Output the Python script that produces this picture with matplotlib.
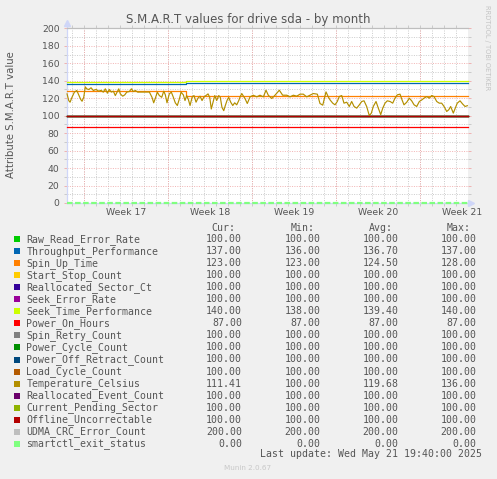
import matplotlib
matplotlib.use('Agg')
import matplotlib.pyplot as plt
from matplotlib.patches import Rectangle
from matplotlib.ticker import MultipleLocator, FixedLocator

plt.rcParams['lines.scale_dashes'] = False

W, H, DPI = 497, 479, 100

title = "S.M.A.R.T values for drive sda - by month"
ylabel = "Attribute S.M.A.R.T value"
week_labels = ["Week 17", "Week 18", "Week 19", "Week 20", "Week 21"]
week_label_pos = [3.5, 10.5, 17.5, 24.5, 31.5]   # days from start of week 17
week_starts = [0, 7, 14, 21, 28]
x_range = (-1.47, 31.95)
step_day = 8.45
last_update = "Last update: Wed May 21 19:40:00 2025"
version = "Munin 2.0.67"

names = ["Raw_Read_Error_Rate", "Throughput_Performance", "Spin_Up_Time",
         "Start_Stop_Count", "Reallocated_Sector_Ct", "Seek_Error_Rate",
         "Seek_Time_Performance", "Power_On_Hours", "Spin_Retry_Count",
         "Power_Cycle_Count", "Power_Off_Retract_Count", "Load_Cycle_Count",
         "Temperature_Celsius", "Reallocated_Event_Count",
         "Current_Pending_Sector", "Offline_Uncorrectable",
         "UDMA_CRC_Error_Count", "smartctl_exit_status"]
colors = ["#00CC00", "#0066B3", "#FF8000", "#FFCC00", "#330099", "#990099",
          "#CCFF00", "#FF0000", "#808080", "#008F00", "#00487D", "#B35A00",
          "#B38F00", "#6B006B", "#8FB300", "#B30000", "#BEBEBE", "#80FF80"]
cur = [100, 137, 123, 100, 100, 100, 140, 87, 100, 100, 100, 100, 111.41,
       100, 100, 100, 200, 0]
mins = [100, 136, 123, 100, 100, 100, 138, 87, 100, 100, 100, 100, 100,
        100, 100, 100, 200, 0]
avgs = [100, 136.70, 124.50, 100, 100, 100, 139.40, 87, 100, 100, 100, 100,
        119.68, 100, 100, 100, 200, 0]
maxs = [100, 137, 128, 100, 100, 100, 140, 87, 100, 100, 100, 100, 136,
        100, 100, 100, 200, 0]
before_step = [100, 136, 128, 100, 100, 100, 138, 87, 100, 100, 100, 100, None,
               100, 100, 100, 200, 0]
after_step = [100, 137, 123, 100, 100, 100, 140, 87, 100, 100, 100, 100, None,
              100, 100, 100, 200, 0]

temp_day = [-1.44, -1.30, -1.19, -1.03, -0.83, -0.63, -0.47, -0.30, -0.19, -0.05,
            0.08, 0.20, 0.37, 0.56, 0.75, 0.98, 1.20, 1.39, 1.58, 1.75, 1.92,
            2.08, 2.25, 2.42, 2.58, 2.73, 2.87, 3.00, 3.20, 3.37, 3.53, 3.75,
            3.92, 4.08, 4.25, 4.45, 4.64, 4.89, 5.14, 5.42, 5.64, 5.78, 5.92,
            6.08, 6.25, 6.45, 6.62, 6.75, 6.89, 7.08, 7.25, 7.42, 7.58, 7.75,
            7.92, 8.06, 8.25, 8.39, 8.53, 8.67, 8.81, 8.98, 9.14, 9.31, 9.47,
            9.64, 9.81, 9.95, 10.14, 10.31, 10.45, 10.58, 10.73, 10.87, 11.03,
            11.20, 11.33, 11.47, 11.62, 11.75, 11.89, 12.03, 12.20, 12.37,
            12.53, 12.70, 12.87, 12.98, 13.12, 13.39, 13.58, 13.81, 14.08,
            14.37, 14.64, 14.92, 15.14, 15.33, 15.62, 15.89, 16.25, 16.53,
            16.87, 17.14, 17.42, 17.70, 17.98, 18.25, 18.53, 18.81, 19.08,
            19.42, 19.64, 19.87, 20.14, 20.33, 20.48, 20.70, 20.89, 21.08,
            21.25, 21.45, 21.64, 21.87, 22.08, 22.28, 22.48, 22.70, 22.92,
            23.12, 23.31, 23.53, 23.75, 23.92, 24.08, 24.31, 24.50, 24.70,
            24.87, 25.06, 25.25, 25.48, 25.70, 25.89, 26.08, 26.31, 26.48,
            26.64, 26.87, 27.08, 27.28, 27.48, 27.70, 27.92, 28.12, 28.31,
            28.53, 28.75, 28.95, 29.14, 29.37, 29.58, 29.78, 29.98, 30.20,
            30.37, 30.53, 30.75, 30.92, 31.08, 31.31, 31.53, 31.73, 31.92]
temp_val = [124.9, 117.3, 115.4, 121.0, 126.9, 128.8, 123.8, 118.5, 116.5, 121.0,
            133.0, 130.7, 129.9, 131.9, 128.8, 130.0, 128.0, 129.0, 126.9, 130.7,
            125.7, 130.0, 127.0, 128.0, 123.0, 126.9, 130.7, 124.9, 122.3, 123.8,
            126.9, 127.6, 130.7, 127.6, 128.8, 126.9, 127.0, 127.0, 127.0, 127.0,
            121.0, 114.7, 120.0, 126.9, 123.0, 121.0, 128.0, 123.8, 114.7, 124.9,
            126.9, 121.0, 114.7, 111.6, 119.2, 126.9, 123.8, 117.3, 123.0, 118.5,
            111.6, 121.0, 123.0, 115.4, 120.0, 122.3, 117.3, 121.0, 123.0, 124.9,
            121.0, 107.6, 115.4, 123.0, 117.3, 123.0, 121.0, 109.5, 105.7, 111.6,
            117.3, 121.0, 115.4, 111.6, 114.7, 112.4, 117.3, 121.5, 125.3, 119.6,
            113.9, 121.5, 123.4, 121.5, 123.4, 121.5, 129.1, 123.4, 119.6, 123.4,
            129.1, 123.4, 123.4, 121.5, 123.4, 122.3, 124.6, 124.6, 121.5, 123.4,
            125.3, 124.6, 113.9, 112.0, 127.2, 121.5, 118.0, 114.3, 112.4, 116.2,
            121.9, 123.0, 114.3, 115.4, 110.5, 116.2, 110.5, 108.6, 112.4, 116.2,
            117.0, 110.5, 100.0, 102.9, 110.5, 116.2, 108.6, 101.2, 108.6, 114.3,
            117.0, 116.2, 114.3, 120.0, 123.8, 124.6, 118.0, 112.4, 115.4, 120.0,
            117.0, 112.4, 110.5, 116.2, 118.0, 120.0, 121.9, 120.0, 123.0, 121.9,
            116.2, 114.3, 114.3, 110.5, 104.8, 106.7, 110.5, 102.9, 108.6, 114.3,
            117.0, 113.3, 110.5, 111.4]

BG = "#F0F0F0"
FONT = "#555555"
AXIS = "#CFD6F8"
GRID = "#C4C4C4"
MGRID = "#EFA8A8"
DOT = (0, (0.72, 1.0))

def fx(px):
    return px / W

def fy(py):
    return 1 - py / H

fig = plt.figure(figsize=(W / DPI, H / DPI), dpi=DPI, facecolor=BG)
left, right, top, bottom = 66.7, 467.7, 28.3, 203.0
ax = fig.add_axes([fx(left), fy(bottom), (right - left) / W, (bottom - top) / H])
ax.set_facecolor("white")
ax.set_xlim(*x_range)
ax.set_ylim(0, 200)

# grid
ax.yaxis.set_major_locator(MultipleLocator(20))
ax.yaxis.set_minor_locator(MultipleLocator(10))
ax.xaxis.set_major_locator(FixedLocator(week_label_pos))
ax.xaxis.set_minor_locator(MultipleLocator(1))
ax.set_xticklabels(week_labels)
ax.grid(which="minor", axis="both", color=GRID, linewidth=0.6, linestyle=DOT)
ax.grid(which="major", axis="y", color=MGRID, linewidth=0.6, linestyle=DOT)
for d in week_starts:
    ax.axvline(d, color=MGRID, linewidth=0.6, linestyle=DOT, zorder=1.5)
ax.set_axisbelow(True)

ax.yaxis.set_ticks_position("both")
ax.xaxis.set_ticks_position("both")
ax.tick_params(axis="y", which="major", length=2, width=0.6, color=MGRID,
               labelsize=6.7, labelcolor=FONT, pad=3.2, direction="out")
ax.tick_params(axis="y", which="minor", length=2, width=0.6, color=GRID, direction="out")
ax.tick_params(axis="x", which="major", length=0, labelsize=6.7, labelcolor=FONT, pad=3.6)
ax.tick_params(axis="x", which="minor", length=2, width=0.6, color=GRID, direction="out")

for s in ["top", "right"]:
    ax.spines[s].set_visible(False)
for s in ["left", "bottom"]:
    ax.spines[s].set_color(AXIS)
    ax.spines[s].set_linewidth(0.9)
    ax.spines[s].set_zorder(1.8)
# arrows
ax.plot([0, 0], [1.0, 1.025], transform=ax.transAxes, color=AXIS, lw=0.9, clip_on=False)
ax.plot([0], [1.03], transform=ax.transAxes, marker="^", ms=4.5, color=AXIS,
        mec=AXIS, clip_on=False)
ax.plot([1.0, 1.004], [0, 0], transform=ax.transAxes, color=AXIS, lw=0.9, clip_on=False)
ax.plot([1.007], [0], transform=ax.transAxes, marker=">", ms=4.5, color=AXIS,
        mec=AXIS, clip_on=False)

# series
for i, name in enumerate(names):
    if name == "Temperature_Celsius":
        ax.plot(temp_day, temp_val, color=colors[i], lw=0.85, zorder=3, clip_on=False)
    elif name == "smartctl_exit_status":
        ax.plot([x_range[0], step_day, x_range[1]],
                [before_step[i], after_step[i], after_step[i]],
                drawstyle="steps-post", color=colors[i], lw=1.6,
                linestyle=(0, (4.0, 1.8)), zorder=3, clip_on=False)
    else:
        ax.plot([x_range[0], step_day, x_range[1]],
                [before_step[i], after_step[i], after_step[i]],
                drawstyle="steps-post", color=colors[i], lw=0.9, zorder=3,
                clip_on=False)

# texts
fig.text(fx(247.8), fy(19.5), title, ha="center", va="center", fontsize=8.5,
         color=FONT, family="DejaVu Sans")
fig.text(fx(10.7), fy(114.5), ylabel, ha="center", va="center", rotation=90,
         fontsize=7.3, color=FONT, family="DejaVu Sans")
fig.text(fx(487.3), fy(5), "RRDTOOL / TOBI OETIKER", ha="center", va="top",
         rotation=270, fontsize=4.8, color="#C4C4C4", family="DejaVu Sans")
fig.text(fx(247.5), fy(468), version, ha="center", va="center", fontsize=5.2,
         color="#C8C8C8", family="DejaVu Sans")

mono = "DejaVu Sans Mono"
fs = 7.1
headers = ["Cur:", "Min:", "Avg:", "Max:"]
val_right = [242.0, 320.7, 398.7, 476.7]
for h, xr in zip(headers, val_right):
    fig.text(fx(xr - 6.3), fy(227.7), h, ha="right", va="center", fontsize=fs,
             color=FONT, family=mono)
for i, name in enumerate(names):
    yy = 239.3 + 12.02 * i
    fig.add_artist(Rectangle((fx(14), fy(yy + 3)), 6 / W, 6 / H,
                             transform=fig.transFigure, facecolor=colors[i],
                             edgecolor="none"))
    fig.text(fx(26.3), fy(yy), name, ha="left", va="center", fontsize=fs,
             color=FONT, family=mono)
    for col, xr in zip([cur, mins, avgs, maxs], val_right):
        fig.text(fx(xr), fy(yy), f"{col[i]:.2f}", ha="right", va="center",
                 fontsize=fs, color=FONT, family=mono)
fig.text(fx(482.3), fy(454.3), last_update, ha="right", va="center", fontsize=fs,
         color=FONT, family=mono)

fig.savefig("out.png", dpi=DPI, facecolor=BG)
